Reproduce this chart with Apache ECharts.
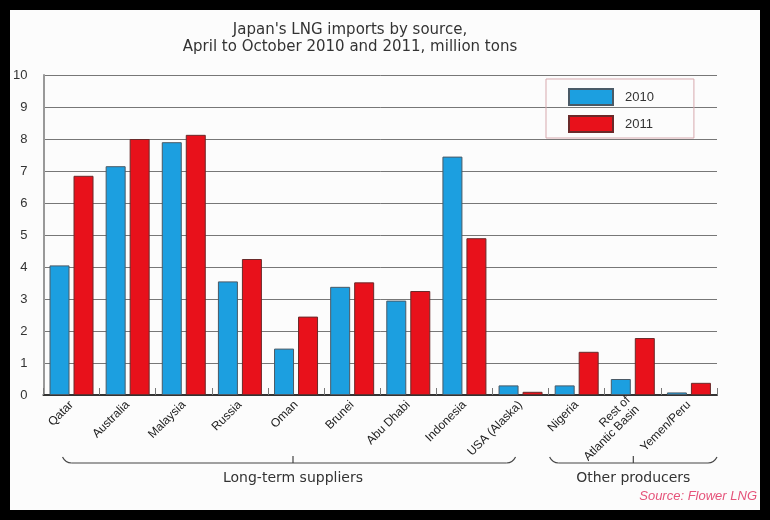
<!DOCTYPE html>
<html>
<head>
<meta charset="utf-8">
<script src="https://cdn.jsdelivr.net/npm/echarts@6/dist/echarts.min.js"></script>
<style>
    body { margin: 0; background: #000; }
    #main { position: absolute; left: 10px; top: 10px; width: 750px; height: 500px; background: #fcfcfc; }
</style>
</head>
<body>
<div id="main"></div>
<script type="text/javascript">
    // data, million tons
    var sources = ['Qatar', 'Australia', 'Malaysia', 'Russia', 'Oman', 'Brunei', 'Abu Dhabi',
        'Indonesia', 'USA (Alaska)', 'Nigeria', 'Rest of\nAtlantic Basin', 'Yemen/Peru'];
    var imports2010 = [4.05, 7.15, 7.9, 3.55, 1.45, 3.38, 2.95, 7.45, 0.3, 0.3, 0.5, 0.08];
    var imports2011 = [6.85, 8.0, 8.13, 4.25, 2.45, 3.52, 3.25, 4.9, 0.1, 1.35, 1.78, 0.38];
    var yTicks = [0, 1, 2, 3, 4, 5, 6, 7, 8, 9, 10];
    // groups under the axis: [label, first index, last index]
    var groups = [['Long-term suppliers', 0, 8], ['Other producers', 9, 11]];

    var myChart = echarts.init(document.getElementById('main'));
    var font = 'Liberation Sans, Arial, sans-serif';
    var wide = 'DejaVu Sans, Verdana, sans-serif';

    myChart.setOption({
        textStyle: { fontFamily: font },
        legend: {
            orient: 'vertical',
            left: 536,
            top: 69,
            padding: [9, 40, 5, 22],
            borderColor: '#d7a9ae',
            borderWidth: 1,
            icon: 'rect',
            itemWidth: 44,
            itemHeight: 16,
            itemGap: 9,
            textStyle: { fontSize: 13, color: '#333', padding: [0, 0, 0, 7] },
            data: ['2010', '2011']
        },
        grid: { left: 33, top: 65, width: 674, height: 320 },
        xAxis: {
            type: 'category',
            data: sources,
            axisLine: { lineStyle: { color: '#333', width: 2 } },
            axisTick: { show: true, inside: true, length: 7, lineStyle: { color: '#777' } },
            axisLabel: { interval: 0, rotate: 45, fontSize: 12, color: '#222', margin: 8, lineHeight: 13 }
        },
        yAxis: {
            type: 'value',
            min: 0,
            max: 10,
            interval: 1,
            axisLine: { show: true, lineStyle: { color: '#999', width: 2 } },
            axisTick: { show: false },
            axisLabel: {
                fontSize: 13, color: '#333', margin: 16,
                formatter: function (v) { return yTicks.indexOf(v) > -1 ? v : ''; }
            },
            splitLine: { lineStyle: { color: '#777', width: 1 } }
        },
        series: [{
            name: '2010',
            type: 'bar',
            data: imports2010,
            barWidth: 20,
            barGap: '20%',
            itemStyle: { color: '#1c9fe0', borderColor: '#4a5a66', borderWidth: 1 }
        }, {
            name: '2011',
            type: 'bar',
            data: imports2011,
            barWidth: 20,
            itemStyle: { color: '#e8111b', borderColor: '#6a2a2a', borderWidth: 1 }
        }]
    });

    // title, brackets under the category labels, source note
    var elements = [{
        type: 'text',
        x: 340,
        y: 12,
        style: {
            text: "Japan's LNG imports by source,\nApril to October 2010 and 2011, million tons",
            fill: '#333', font: '15px ' + wide, textAlign: 'center', lineHeight: 17
        }
    }];
    var y = 453;
    var stroke = { fill: null, stroke: '#444', lineWidth: 1.2 };
    var step = myChart.convertToPixel({ xAxisIndex: 0 }, 1) - myChart.convertToPixel({ xAxisIndex: 0 }, 0);
    groups.forEach(function (g, i) {
        var x0 = myChart.convertToPixel({ xAxisIndex: 0 }, g[1]) - (i === 0 ? 4 : step / 2 - 6);
        var x1 = myChart.convertToPixel({ xAxisIndex: 0 }, g[2]) + (i === 0 ? -10 : step / 2 - 5);
        var xm = i === 0 ? 283 : (x0 + x1) / 2;
        elements.push({
            type: 'bezierCurve',
            shape: { x1: x0 - 5, y1: y - 6, x2: x0 + 4, y2: y, cpx1: x0 - 2, cpy1: y },
            style: stroke
        }, {
            type: 'line',
            shape: { x1: x0 + 4, y1: y, x2: x1 - 4, y2: y },
            style: stroke
        }, {
            type: 'bezierCurve',
            shape: { x1: x1 - 4, y1: y, x2: x1 + 5, y2: y - 6, cpx1: x1 + 2, cpy1: y },
            style: stroke
        }, {
            type: 'line',
            shape: { x1: xm, y1: y, x2: xm, y2: y - 7 },
            style: stroke
        }, {
            type: 'text',
            x: xm,
            y: y + 15,
            style: { text: g[0], fill: '#333', font: '14px ' + wide, textAlign: 'center', textVerticalAlign: 'middle' }
        });
    });
    elements.push({
        type: 'text',
        right: 3,
        top: 480,
        style: { text: 'Source: Flower LNG', fill: '#e5537a', font: 'italic 13px ' + font }
    });
    myChart.setOption({ graphic: elements });
</script>
</body>
</html>
